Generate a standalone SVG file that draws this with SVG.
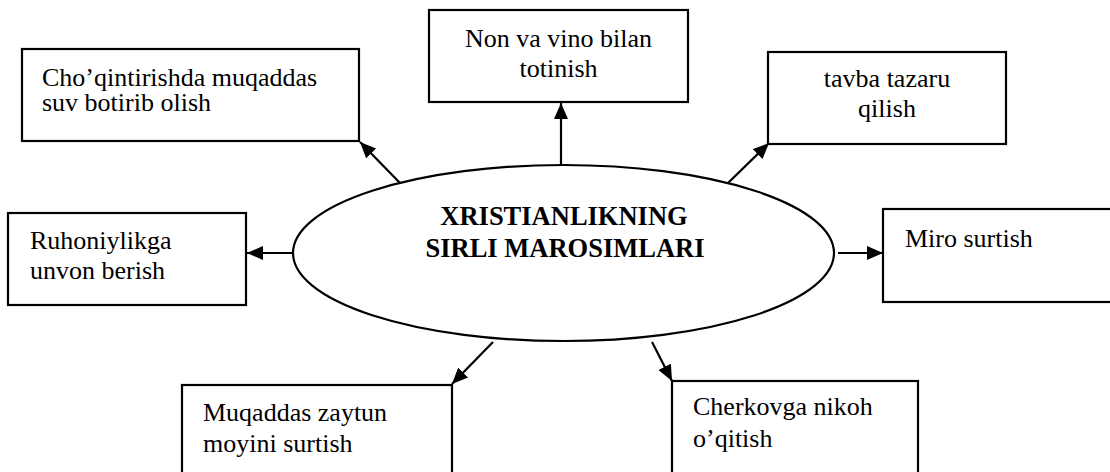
<svg xmlns="http://www.w3.org/2000/svg" width="1110" height="472" viewBox="0 0 1110 472">
<defs>
<marker id="arr" viewBox="0 0 16 14" refX="16" refY="7" markerWidth="16" markerHeight="14" markerUnits="userSpaceOnUse" orient="auto">
<path d="M0,0 L16,7 L0,14 z" fill="#000"/>
</marker>
<style>
.box{fill:#fff;stroke:#000;stroke-width:2.2}
text{font-family:'Liberation Serif','Times New Roman','DejaVu Serif',serif;font-size:26px;fill:#000}
.c{text-anchor:middle}
.b{font-weight:bold;font-size:26.5px}
.con{stroke:#000;stroke-width:2.2;fill:none;marker-end:url(#arr)}
</style>
</defs>
<rect width="1110" height="472" fill="#fff"/>
<g id="connectors">
<line class="con" x1="400" y1="183" x2="360" y2="142"/>
<line class="con" x1="561" y1="165" x2="561" y2="103"/>
<line class="con" x1="728" y1="183" x2="769" y2="143"/>
<line class="con" x1="293" y1="253" x2="247" y2="253"/>
<line class="con" x1="838" y1="253" x2="883" y2="253"/>
<line class="con" x1="493" y1="342" x2="452" y2="384"/>
<line class="con" x1="652" y1="342" x2="672" y2="381"/>
</g>
<g font-family="Liberation Serif, Times New Roman, serif" font-size="26">
<g id="center">
<ellipse cx="563.5" cy="253" rx="270.5" ry="88" fill="#fff" stroke="#000" stroke-width="2.2"/>
<text class="c b" x="564" y="225">XRISTIANLIKNING</text>
<text class="c b" x="565" y="257">SIRLI MAROSIMLARI</text>
</g>
<g id="n1">
<rect class="box" x="22" y="49" width="337" height="92"/>
<text x="42" y="86">Cho’qintirishda muqaddas</text>
<text x="42" y="111">suv  botirib olish</text>
</g>
<g id="n2">
<rect class="box" x="429" y="10" width="259" height="92"/>
<text class="c" x="558.5" y="47">Non va vino bilan</text>
<text class="c" x="558.5" y="77">totinish</text>
</g>
<g id="n3">
<rect class="box" x="768" y="52" width="238" height="92"/>
<text class="c" x="887" y="87">tavba tazaru</text>
<text class="c" x="887" y="117">qilish</text>
</g>
<g id="n4">
<rect class="box" x="8" y="213" width="238" height="92"/>
<text x="30" y="249">Ruhoniylikga</text>
<text x="30" y="279">unvon berish</text>
</g>
<g id="n5">
<rect class="box" x="883" y="209" width="240" height="93"/>
<text x="905" y="247">Miro surtish</text>
</g>
<g id="n6">
<rect class="box" x="182" y="385" width="270" height="100"/>
<text x="203" y="421">Muqaddas zaytun</text>
<text x="203" y="452">moyini  surtish</text>
</g>
<g id="n7">
<rect class="box" x="672" y="381" width="246" height="100"/>
<text x="693" y="415">Cherkovga nikoh</text>
<text x="693" y="447">o’qitish</text>
</g>
</g>
</svg>
